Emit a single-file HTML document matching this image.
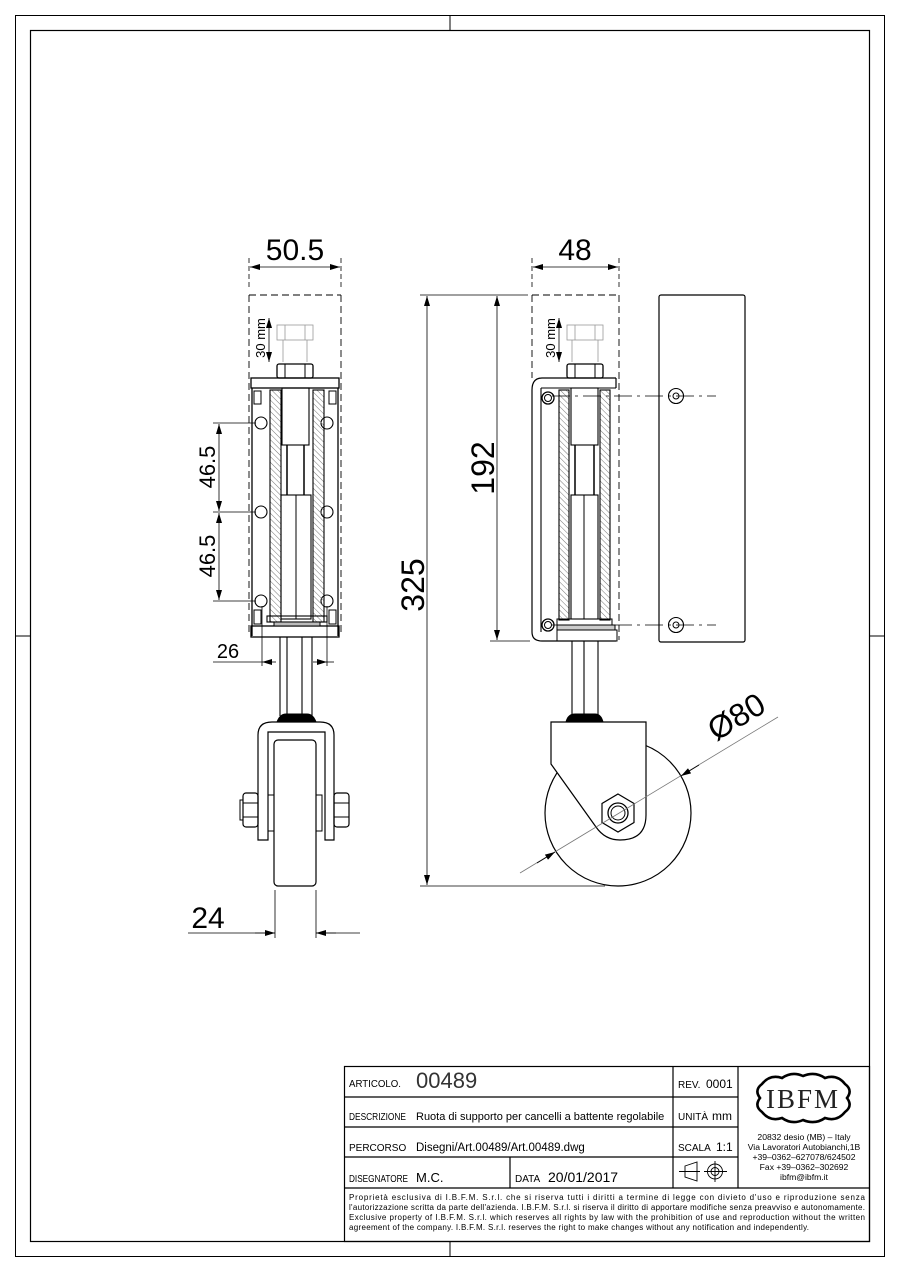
<!DOCTYPE html>
<html><head><meta charset="utf-8"><style>
html,body{margin:0;padding:0;background:#fff}
svg{display:block}
text{font-family:"Liberation Sans",sans-serif;fill:#000}
</style></head><body>
<svg width="900" height="1272" viewBox="0 0 900 1272" xmlns="http://www.w3.org/2000/svg">
<defs>
<pattern id="h" width="4" height="4" patternUnits="userSpaceOnUse" patternTransform="rotate(-45)">
<line x1="0" y1="0" x2="0" y2="4" stroke="#777" stroke-width="1"/></pattern>
<marker id="a" viewBox="0 0 10 6" refX="10" refY="3" markerWidth="14" markerHeight="6" markerUnits="userSpaceOnUse" orient="auto-start-reverse"><path d="M0,0L10,3L0,6z" fill="#000"/></marker>
</defs>
<g fill="none" stroke="#000">
<rect x="15.5" y="15.5" width="869" height="1241" stroke-width="1"/>
<rect x="30.5" y="30.5" width="839" height="1211" stroke-width="1.2"/>
<line x1="450" y1="15" x2="450" y2="30"/><line x1="450" y1="1242" x2="450" y2="1257"/>
<line x1="15" y1="636" x2="30" y2="636"/><line x1="870" y1="636" x2="885" y2="636"/>

<!-- LEFT VIEW -->
<g stroke-width="0.8">
<line x1="249" y1="258" x2="249" y2="290" stroke-dasharray="5,3"/>
<line x1="341" y1="258" x2="341" y2="290" stroke-dasharray="5,3"/>
<line x1="250" y1="267" x2="340" y2="267" marker-start="url(#a)" marker-end="url(#a)"/>
</g>
<g stroke-dasharray="7,4" stroke-width="0.9">
<line x1="249" y1="295" x2="341" y2="295"/>
<line x1="249" y1="295" x2="249" y2="636"/>
<line x1="341" y1="295" x2="341" y2="636"/>
</g>
<g stroke="#999" stroke-width="0.8"><rect x="277" y="325" width="36" height="15"/><line x1="285" y1="325" x2="285" y2="340"/><line x1="305" y1="325" x2="305" y2="340"/><line x1="283" y1="340" x2="283" y2="362"/><line x1="307" y1="340" x2="307" y2="362"/></g>
<line x1="269" y1="318" x2="269" y2="362" stroke-width="0.8" marker-start="url(#a)" marker-end="url(#a)"/>
<rect x="277" y="364" width="36" height="14" rx="2" stroke-width="1.3"/>
<line x1="285" y1="364" x2="285" y2="378"/><line x1="305" y1="364" x2="305" y2="378"/>
<rect x="251" y="378" width="88" height="10" stroke-width="1.3"/>
<line x1="252" y1="388" x2="252" y2="636" stroke-width="1.3"/>
<line x1="338" y1="388" x2="338" y2="636" stroke-width="1.3"/>
<rect x="251" y="626" width="88" height="11" stroke-width="1.3"/>
<rect x="254" y="391" width="7" height="13"/><rect x="329" y="391" width="7" height="13"/>
<rect x="254" y="610" width="7" height="14"/><rect x="329" y="610" width="7" height="14"/>
<g stroke-width="1.1">
<circle cx="261" cy="423" r="6"/><circle cx="327" cy="423" r="6"/>
<circle cx="261" cy="512" r="6"/><circle cx="327" cy="512" r="6"/>
<circle cx="261" cy="601" r="6"/><circle cx="327" cy="601" r="6"/>
</g>
<rect x="270" y="390" width="11" height="232" fill="url(#h)" stroke-width="1.1"/>
<rect x="313" y="390" width="11" height="232" fill="url(#h)" stroke-width="1.1"/>
<rect x="282" y="388" width="27" height="57" stroke-width="1.1"/>
<line x1="287" y1="445" x2="287" y2="495" stroke-width="1.5"/><line x1="304" y1="445" x2="304" y2="495" stroke-width="1.5"/>
<rect x="281" y="495" width="30" height="124" stroke-width="1.1"/>
<line x1="296" y1="495" x2="296" y2="619"/>
<rect x="267" y="616" width="60" height="6" stroke-width="1.1"/>
<rect x="274" y="622" width="46" height="4" fill="#bbb"/>
<g stroke-width="0.8">
<line x1="213" y1="423" x2="256" y2="423"/><line x1="213" y1="512" x2="256" y2="512"/><line x1="213" y1="601" x2="256" y2="601"/>
<line x1="219" y1="424" x2="219" y2="511" marker-start="url(#a)" marker-end="url(#a)"/>
<line x1="219" y1="513" x2="219" y2="600" marker-start="url(#a)" marker-end="url(#a)"/>
<line x1="262" y1="606" x2="262" y2="666"/><line x1="327" y1="606" x2="327" y2="666"/>
<line x1="213" y1="662" x2="262" y2="662"/><line x1="327" y1="662" x2="334" y2="662"/>
<line x1="262" y1="662" x2="276" y2="662" marker-start="url(#a)"/>
<line x1="313" y1="662" x2="327" y2="662" marker-end="url(#a)"/>
</g>
<g stroke-width="1.1">
<line x1="280" y1="637" x2="280" y2="716"/><line x1="312" y1="637" x2="312" y2="716"/>
<line x1="287" y1="637" x2="287" y2="716"/><line x1="302" y1="637" x2="302" y2="716"/>
</g>
<path d="M277,722 Q280,714 286,714 L307,714 Q313,714 316,722 Z" fill="#000"/>
<path d="M262,840 L258,840 L258,735 Q258,722 272,722 L320,722 Q334,722 334,735 L334,840 L325,840 L325,732 L268,732 L268,840 Z" stroke-width="1.2"/>
<rect x="274" y="740" width="42" height="146" rx="4" stroke-width="1.2"/>
<rect x="268" y="795" width="6" height="36"/><rect x="316" y="795" width="6" height="36"/>
<rect x="243" y="793" width="15" height="34" rx="3" stroke-width="1.2"/><line x1="243" y1="803" x2="258" y2="803"/><line x1="243" y1="817" x2="258" y2="817"/>
<rect x="240" y="800" width="3" height="20"/>
<rect x="334" y="793" width="15" height="34" rx="3" stroke-width="1.2"/><line x1="334" y1="803" x2="349" y2="803"/><line x1="334" y1="817" x2="349" y2="817"/>
<g stroke-width="0.8">
<line x1="275" y1="890" x2="275" y2="938"/><line x1="316" y1="890" x2="316" y2="938"/>
<line x1="188" y1="933" x2="275" y2="933"/><line x1="316" y1="933" x2="360" y2="933"/>
<line x1="255" y1="933" x2="275" y2="933" marker-end="url(#a)"/>
<line x1="336" y1="933" x2="316" y2="933" marker-end="url(#a)"/>
</g>

<!-- MIDDLE VIEW -->
<g stroke-width="0.8">
<line x1="532" y1="258" x2="532" y2="290" stroke-dasharray="5,3"/>
<line x1="619" y1="258" x2="619" y2="290" stroke-dasharray="5,3"/>
<line x1="533" y1="267" x2="618" y2="267" marker-start="url(#a)" marker-end="url(#a)"/>
</g>
<g stroke-dasharray="7,4" stroke-width="0.9">
<line x1="532" y1="295" x2="619" y2="295"/>
<line x1="532" y1="295" x2="532" y2="378"/>
<line x1="619" y1="295" x2="619" y2="640"/>
</g>
<g stroke="#999" stroke-width="0.8"><rect x="567" y="325" width="36" height="15"/><line x1="575" y1="325" x2="575" y2="340"/><line x1="595" y1="325" x2="595" y2="340"/><line x1="572" y1="340" x2="572" y2="362"/><line x1="598" y1="340" x2="598" y2="362"/></g>
<line x1="559" y1="318" x2="559" y2="362" stroke-width="0.8" marker-start="url(#a)" marker-end="url(#a)"/>
<rect x="567" y="364" width="36" height="14" rx="2" stroke-width="1.3"/>
<line x1="575" y1="364" x2="575" y2="378"/><line x1="595" y1="364" x2="595" y2="378"/>
<path d="M616,378 L542,378 Q532,378 532,390 L532,632 Q532,641 542,641 L616,641" stroke-width="1.2"/>
<line x1="541" y1="388" x2="541" y2="632" stroke-width="1.1"/><line x1="541" y1="388" x2="616" y2="388"/>
<line x1="616" y1="378" x2="616" y2="388" stroke-width="1.2"/>
<circle cx="548" cy="398" r="6" stroke-width="1.3"/><circle cx="548" cy="398" r="3.5"/>
<circle cx="548" cy="625" r="6" stroke-width="1.3"/><circle cx="548" cy="625" r="3.5"/>
<rect x="559" y="390" width="10" height="230" fill="url(#h)" stroke-width="1.1"/>
<rect x="600" y="390" width="10" height="230" fill="url(#h)" stroke-width="1.1"/>
<rect x="571" y="388" width="27" height="57" stroke-width="1.1"/>
<line x1="575" y1="445" x2="575" y2="495" stroke-width="1.5"/><line x1="594" y1="445" x2="594" y2="495" stroke-width="1.5"/>
<rect x="571" y="495" width="27" height="124" stroke-width="1.1"/><line x1="584" y1="495" x2="584" y2="619"/>
<rect x="557" y="619" width="55" height="6"/><rect x="557" y="625" width="58" height="5" fill="#ccc"/><rect x="557" y="630" width="60" height="11"/>
<rect x="659" y="295" width="86" height="347" rx="2" stroke-width="1.2"/>
<circle cx="676" cy="396" r="7.5" stroke-width="1.1"/><circle cx="676" cy="396" r="3"/>
<circle cx="676" cy="625" r="7.5" stroke-width="1.1"/><circle cx="676" cy="625" r="3"/>
<g stroke-width="0.8" stroke-dasharray="18,5,3,5">
<line x1="552" y1="396" x2="716" y2="396"/><line x1="552" y1="625" x2="716" y2="625"/>
</g>
<g stroke-width="0.8">
<line x1="420" y1="295" x2="528" y2="295"/><line x1="490" y1="641" x2="530" y2="641"/>
<line x1="420" y1="886" x2="605" y2="886"/>
<line x1="497" y1="296" x2="497" y2="640" marker-start="url(#a)" marker-end="url(#a)"/>
<line x1="427" y1="296" x2="427" y2="885" marker-start="url(#a)" marker-end="url(#a)"/>
</g>
<g stroke-width="1.1"><line x1="572" y1="641" x2="572" y2="716"/><line x1="584" y1="641" x2="584" y2="716"/><line x1="598" y1="641" x2="598" y2="716"/></g>
<path d="M566,722 Q568,714 575,714 L595,714 Q601,714 603,722 Z" fill="#000"/>
<circle cx="618" cy="813" r="73" stroke-width="1.2"/>
<path d="M551,722 L646,722 L646,815 Q646,840 620,840 Q605,840 596,827 L551,764 Z" fill="#fff" stroke-width="1.2"/>
<polygon points="618,794 634,803.5 634,822.5 618,832 602,822.5 602,803.5" stroke-width="1.2"/>
<circle cx="618" cy="813" r="10" stroke-width="1.3"/><circle cx="618" cy="813" r="7"/>
<line x1="520" y1="873" x2="778" y2="717" stroke="#777" stroke-width="0.8"/>
<line x1="537" y1="863" x2="555" y2="852" stroke-width="0.8" marker-end="url(#a)"/>
<line x1="699" y1="765" x2="681" y2="776" stroke-width="0.8" marker-end="url(#a)"/>

<!-- TITLE BLOCK -->
<g stroke-width="1.2">
<rect x="344.5" y="1066.5" width="525" height="175"/>
<line x1="344" y1="1097" x2="738" y2="1097"/>
<line x1="344" y1="1127" x2="738" y2="1127"/>
<line x1="344" y1="1157" x2="738" y2="1157"/>
<line x1="344" y1="1188" x2="870" y2="1188"/>
<line x1="673" y1="1066" x2="673" y2="1188"/>
<line x1="738" y1="1066" x2="738" y2="1188"/>
<line x1="510" y1="1157" x2="510" y2="1188"/>
</g>
<g stroke-width="0.9">
<path d="M685,1166 L697,1162 L697,1181 L685,1177 Z"/>
<line x1="679" y1="1171.5" x2="700" y2="1171.5"/>
<circle cx="715" cy="1171.5" r="7.5"/><circle cx="715" cy="1171.5" r="4"/>
<line x1="704" y1="1171.5" x2="727" y2="1171.5"/><line x1="715" y1="1161" x2="715" y2="1182"/>
</g>
<path d="M760,1098 Q754,1090 762,1084 Q770,1074 782,1078 Q792,1071 803,1076 Q815,1071 825,1078 Q837,1074 845,1084 Q853,1090 847,1098 Q853,1106 845,1112 Q837,1122 825,1118 Q815,1125 803,1120 Q792,1125 782,1118 Q770,1122 762,1112 Q754,1106 760,1098 Z" stroke-width="2.6"/>
</g>
<text x="295" y="260" font-size="30" text-anchor="middle">50.5</text>
<text x="575" y="260" font-size="30" text-anchor="middle">48</text>
<text x="265" y="338" font-size="13" text-anchor="middle" transform="rotate(-90 265 338)">30 mm</text>
<text x="555" y="338" font-size="13" text-anchor="middle" transform="rotate(-90 555 338)">30 mm</text>
<text x="215" y="467" font-size="22" text-anchor="middle" transform="rotate(-90 215 467)">46.5</text>
<text x="215" y="556" font-size="22" text-anchor="middle" transform="rotate(-90 215 556)">46.5</text>
<text x="228" y="658" font-size="20" text-anchor="middle">26</text>
<text x="208" y="928" font-size="30" text-anchor="middle">24</text>
<text x="494" y="468" font-size="32" text-anchor="middle" transform="rotate(-90 494 468)">192</text>
<text x="424" y="585" font-size="32" text-anchor="middle" transform="rotate(-90 424 585)">325</text>
<text x="742" y="726" font-size="32" text-anchor="middle" transform="rotate(-31 742 726)">Ø80</text>

<text x="349" y="1087" font-size="10" textLength="52" lengthAdjust="spacingAndGlyphs">ARTICOLO.</text>
<text x="416" y="1088" font-size="22" style="fill:#333">00489</text>
<text x="678" y="1088" font-size="10">REV.</text>
<text x="706" y="1088" font-size="12">0001</text>
<text x="349" y="1120" font-size="10" textLength="57" lengthAdjust="spacingAndGlyphs">DESCRIZIONE</text>
<text x="416" y="1120" font-size="11">Ruota di supporto per cancelli a battente regolabile</text>
<text x="678" y="1120" font-size="10">UNITÀ</text>
<text x="712" y="1120" font-size="12">mm</text>
<text x="349" y="1151" font-size="10">PERCORSO</text>
<text x="416" y="1151" font-size="11.5">Disegni/Art.00489/Art.00489.dwg</text>
<text x="678" y="1151" font-size="10">SCALA</text>
<text x="716" y="1151" font-size="12">1:1</text>
<text x="349" y="1182" font-size="10" textLength="59" lengthAdjust="spacingAndGlyphs">DISEGNATORE</text>
<text x="416" y="1182" font-size="13">M.C.</text>
<text x="515" y="1182" font-size="10">DATA</text>
<text x="548" y="1182" font-size="14">20/01/2017</text>
<text x="803" y="1108" font-size="27" text-anchor="middle" style="font-family:'Liberation Serif',serif;fill:#222" letter-spacing="2">IBFM</text>
<g font-size="8.6" text-anchor="middle">
<text x="804" y="1140">20832 desio (MB) – Italy</text>
<text x="804" y="1150">Via Lavoratori Autobianchi,1B</text>
<text x="804" y="1160">+39–0362–627078/624502</text>
<text x="804" y="1170">Fax +39–0362–302692</text>
<text x="804" y="1180">ibfm@ibfm.it</text>
</g>
<g font-size="8">
<text x="349" y="1200" textLength="516" lengthAdjust="spacing">Proprietà esclusiva di I.B.F.M. S.r.l. che si riserva tutti i diritti a termine di legge con divieto d'uso e riproduzione senza</text>
<text x="349" y="1210" textLength="516" lengthAdjust="spacing">l'autorizzazione scritta da parte dell'azienda. I.B.F.M. S.r.l. si riserva il diritto di apportare modifiche senza preavviso e autonomamente.</text>
<text x="349" y="1220" textLength="516" lengthAdjust="spacing">Exclusive property of I.B.F.M. S.r.l. which reserves all rights by law with the prohibition of use and reproduction without the written</text>
<text x="349" y="1230" textLength="460" lengthAdjust="spacing">agreement of the company. I.B.F.M. S.r.l. reserves the right to make changes without any notification and independently.</text>
</g>
</svg>
</body></html>
